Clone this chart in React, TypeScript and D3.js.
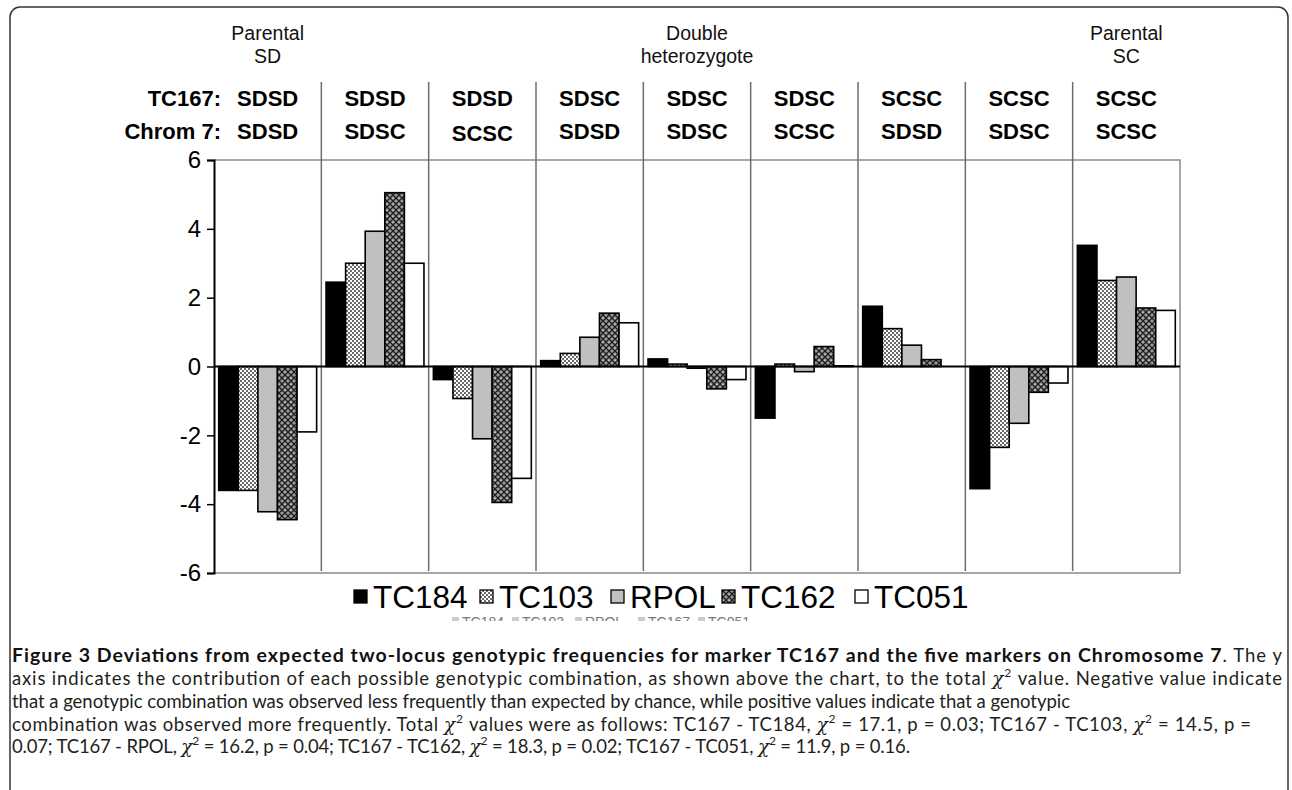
import React, { useEffect, useRef } from 'react';
import * as d3 from 'd3';

// genotype combinations (x categories)
const tc167Labels = ['SDSD', 'SDSD', 'SDSD', 'SDSC', 'SDSC', 'SDSC', 'SCSC', 'SCSC', 'SCSC'];
const chrom7Labels = ['SDSD', 'SDSC', 'SCSC', 'SDSD', 'SDSC', 'SCSC', 'SDSD', 'SDSC', 'SCSC'];
const groupLabels = [
  { idx: 0, lines: ['Parental', 'SD'] },
  { idx: 4, lines: ['Double', 'heterozygote'] },
  { idx: 8, lines: ['Parental', 'SC'] },
];

const seriesNames = ['TC184', 'TC103', 'RPOL', 'TC162', 'TC051'];
const tc184 = [-3.6, 2.45, -0.38, 0.17, 0.22, -1.5, 1.75, -3.55, 3.52];
const tc103 = [-3.6, 3.0, -0.93, 0.38, 0.07, 0.07, 1.1, -2.35, 2.5];
const rpol = [-4.22, 3.93, -2.1, 0.85, -0.05, -0.15, 0.62, -1.65, 2.6];
const tc162 = [-4.45, 5.05, -3.95, 1.55, -0.65, 0.58, 0.2, -0.75, 1.7];
const tc051 = [-1.9, 3.0, -3.25, 1.27, -0.38, 0.02, 0.0, -0.48, 1.63];
const yTicks = [-6, -4, -2, 0, 2, 4, 6];

const W = 1292;
const H = 790;

export default function App() {
  const svgRef = useRef<SVGSVGElement>(null);

  useEffect(() => {
    const svg = d3.select(svgRef.current);
    svg.selectAll('*').remove();

    const left = 214, right = 1180, top = 160, bottom = 573;
    const seriesValues = [tc184, tc103, rpol, tc162, tc051];
    const fills = ['#000', 'url(#pat103)', '#c0c0c0', 'url(#pat162)', '#fff'];

    // patterns
    const defs = svg.append('defs');
    const p1 = defs.append('pattern').attr('id', 'pat103').attr('patternUnits', 'userSpaceOnUse')
      .attr('width', 4).attr('height', 4);
    p1.append('rect').attr('width', 4).attr('height', 4).attr('fill', '#fff');
    p1.append('rect').attr('width', 2).attr('height', 2).attr('fill', '#6a6a6a');
    p1.append('rect').attr('x', 2).attr('y', 2).attr('width', 2).attr('height', 2).attr('fill', '#6a6a6a');
    const p2 = defs.append('pattern').attr('id', 'pat162').attr('patternUnits', 'userSpaceOnUse')
      .attr('width', 6).attr('height', 6);
    p2.append('rect').attr('width', 6).attr('height', 6).attr('fill', '#9a9a9a');
    p2.append('path').attr('d', 'M0,0L6,6M6,0L0,6').attr('stroke', '#1e1e1e').attr('stroke-width', 1.3);
    p2.append('rect').attr('x', 2.5).attr('y', 0).attr('width', 1).attr('height', 1).attr('fill', '#ddd');

    const clip = defs.append('clipPath').attr('id', 'ghostClip');
    clip.append('rect').attr('x', 0).attr('y', 615).attr('width', W).attr('height', 6);

    // outer frame
    svg.append('rect').attr('x', 10).attr('y', 7).attr('width', 1278).attr('height', 900)
      .attr('rx', 10).attr('fill', '#fff').attr('stroke', '#333').attr('stroke-width', 1.5);

    const x = d3.scaleBand<number>().domain(d3.range(9)).range([left, right]).paddingInner(0).paddingOuter(0);
    const xs = d3.scaleBand<string>().domain(seriesNames).range([0, x.bandwidth()])
      .paddingInner(0).paddingOuter(0.24);
    const y = d3.scaleLinear().domain([-6, 6]).range([bottom, top]);

    // plot frame (gray)
    svg.append('path')
      .attr('d', `M${left},${top}H${right}V${bottom}H${left}`)
      .attr('fill', 'none').attr('stroke', '#8a8a8a').attr('stroke-width', 1.5);

    // category dividers
    svg.append('g').selectAll('line').data(d3.range(1, 9)).join('line')
      .attr('x1', (d) => x(d)!).attr('x2', (d) => x(d)!)
      .attr('y1', 82).attr('y2', bottom - 2)
      .attr('stroke', '#6e6e6e').attr('stroke-width', 1.5);

    // bars
    seriesNames.forEach((s, si) => {
      svg.append('g').selectAll('rect').data(seriesValues[si]).join('rect')
        .attr('x', (_, i) => x(i)! + xs(s)!)
        .attr('width', xs.bandwidth())
        .attr('y', (d) => y(Math.max(0, d)))
        .attr('height', (d) => Math.abs(y(d) - y(0)))
        .attr('fill', fills[si])
        .attr('stroke', '#000').attr('stroke-width', 1.6);
    });

    // zero line
    svg.append('line').attr('x1', left).attr('x2', right).attr('y1', y(0)).attr('y2', y(0))
      .attr('stroke', '#000').attr('stroke-width', 2);

    // y axis
    const yAxis = svg.append('g').attr('transform', `translate(${left},0)`)
      .call(d3.axisLeft(y).tickValues(yTicks).tickSize(7).tickPadding(6).tickFormat((d) => String(d)));
    yAxis.select('.domain').attr('stroke', '#000').attr('stroke-width', 2);
    yAxis.selectAll('.tick line').attr('stroke', '#000').attr('stroke-width', 1.5);
    yAxis.selectAll('.tick text').attr('font-family', 'Arial, "Liberation Sans", sans-serif')
      .attr('font-size', 24).attr('fill', '#000');

    // top labels
    const font = 'Arial, "Liberation Sans", sans-serif';
    const cx = (i: number) => x(i)! + x.bandwidth() / 2;
    svg.append('text').attr('x', 221).attr('y', 106).attr('text-anchor', 'end')
      .attr('font-family', font).attr('font-weight', 'bold').attr('font-size', 22).text('TC167:');
    svg.append('text').attr('x', 221).attr('y', 139).attr('text-anchor', 'end')
      .attr('font-family', font).attr('font-weight', 'bold').attr('font-size', 22).text('Chrom 7:');
    svg.append('g').selectAll('text').data(tc167Labels).join('text')
      .attr('x', (_, i) => cx(i)).attr('y', 106).attr('text-anchor', 'middle')
      .attr('font-family', font).attr('font-weight', 'bold').attr('font-size', 22).text((d) => d);
    svg.append('g').selectAll('text').data(chrom7Labels).join('text')
      .attr('x', (_, i) => cx(i)).attr('y', (_, i) => (i === 2 ? 141 : 139)).attr('text-anchor', 'middle')
      .attr('font-family', font).attr('font-weight', 'bold').attr('font-size', 22).text((d) => d);
    groupLabels.forEach((g) => {
      g.lines.forEach((ln, li) => {
        svg.append('text').attr('x', cx(g.idx)).attr('y', 40 + li * 23).attr('text-anchor', 'middle')
          .attr('font-family', font).attr('font-size', 19.5).attr('fill', '#111').text(ln);
      });
    });

    // legend
    const legendX = [354, 480, 611, 722, 855];
    const lg = svg.append('g');
    seriesNames.forEach((s, si) => {
      lg.append('rect').attr('x', legendX[si]).attr('y', 590).attr('width', 13).attr('height', 13)
        .attr('fill', fills[si]).attr('stroke', '#000').attr('stroke-width', 1.3);
      lg.append('text').attr('x', legendX[si] + 19).attr('y', 608).attr('font-family', font)
        .attr('font-size', 31.5).text(s);
    });
    // ghost legend partly hidden under caption
    const gh = svg.append('g').attr('clip-path', 'url(#ghostClip)');
    const ghostX = [462, 522, 585, 648, 708];
    const ghostNames = ['TC184', 'TC103', 'RPOL', 'TC167', 'TC051'];
    ghostNames.forEach((s, si) => {
      gh.append('rect').attr('x', ghostX[si] - 10).attr('y', 617).attr('width', 7).attr('height', 7)
        .attr('fill', '#ccc');
      gh.append('text').attr('x', ghostX[si]).attr('y', 627).attr('font-family', font)
        .attr('font-size', 14).attr('fill', '#777').text(s);
    });

    // caption
    const cap = '"Lato", "Open Sans", sans-serif';
    const chi = (t: d3.Selection<SVGTextElement, unknown, null, undefined>) => {
      t.append('tspan').attr('font-family', '"DejaVu Serif", serif').attr('font-style', 'italic').text('χ');
      t.append('tspan').attr('dy', -8).attr('font-size', 12).text('2');
      t.append('tspan').attr('dy', 8).text('\u00a0');
    };
    const lines: Array<{ y: number; len: number; parts: Array<string | null>; bold?: string }> = [
      { y: 662, len: 1270, bold: 'Figure 3 Deviations from expected two-locus genotypic frequencies for marker TC167 and the five markers on Chromosome 7', parts: ['. The y'] },
      { y: 685, len: 1270, parts: ['axis indicates the contribution of each possible genotypic combination, as shown above the chart, to the total ', null, 'value. Negative value indicate'] },
      { y: 708, len: 1058, parts: ['that a genotypic combination was observed less frequently than expected by chance, while positive values indicate that a genotypic'] },
      { y: 731, len: 1239, parts: ['combination was observed more frequently. Total ', null, 'values were as follows: TC167 - TC184, ', null, '= 17.1, p = 0.03; TC167 - TC103, ', null, '= 14.5, p ='] },
      { y: 753, len: 898, parts: ['0.07; TC167 - RPOL, ', null, '= 16.2, p = 0.04; TC167 - TC162, ', null, '= 18.3, p = 0.02; TC167 - TC051, ', null, '= 11.9, p = 0.16.'] },
    ];
    lines.forEach((ln) => {
      const t = svg.append('text').attr('x', 12).attr('y', ln.y).attr('font-family', cap)
        .attr('font-size', 18.5).attr('fill', '#231f20')
        .attr('textLength', ln.len).attr('lengthAdjust', 'spacing');
      if (ln.bold) t.append('tspan').attr('font-weight', 'bold').attr('font-size', 19.5).attr('fill', '#111').text(ln.bold);
      ln.parts.forEach((p) => {
        if (p === null) chi(t as any);
        else t.append('tspan').text(p);
      });
    });
  }, []);

  return (
    <svg
      ref={svgRef}
      width={W}
      height={H}
      style={{ position: 'absolute', left: 0, top: 0, background: '#fff' }}
    />
  );
}
